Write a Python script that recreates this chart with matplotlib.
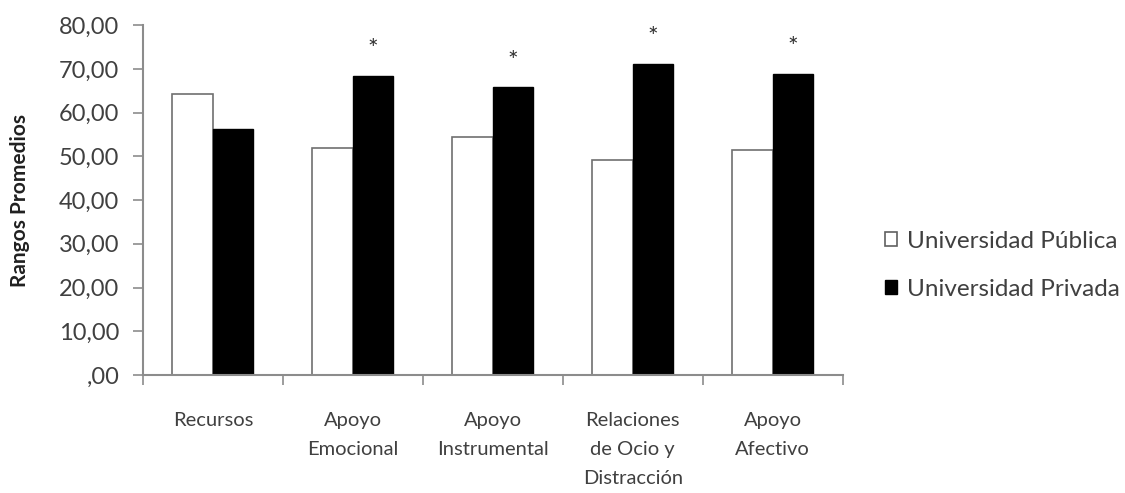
import numpy as np
import matplotlib
matplotlib.use("Agg")
import matplotlib.pyplot as plt
from matplotlib.patches import Patch

plt.rcParams["font.family"] = ["Lato", "DejaVu Sans"]

categories = ["Recursos", "Apoyo\nEmocional", "Apoyo\nInstrumental",
              "Relaciones\nde Ocio y\nDistracción", "Apoyo\nAfectivo"]
publica = [64.2, 51.8, 54.5, 49.1, 51.4]
privada = [56.2, 68.4, 65.8, 71.1, 68.8]
significant = [False, True, True, True, True]
yticks = [0, 10, 20, 30, 40, 50, 60, 70, 80]
ytick_labels = [",00", "10,00", "20,00", "30,00", "40,00", "50,00", "60,00", "70,00", "80,00"]

text_color = "#404040"
axis_color = "#8c8c8c"

fig = plt.figure(figsize=(11.25, 4.93), dpi=100)
ax = fig.add_axes([0.127, 0.2394, 0.622, 0.7096])

x = np.arange(len(categories))
w = 0.29
ax.bar(x - w / 2, publica, w, color="white", edgecolor="#707070", linewidth=1.2, zorder=2)
ax.bar(x + w / 2, privada, w, color="black", edgecolor="black", linewidth=1.0, zorder=2)

for xi, v, s in zip(x, privada, significant):
    if s:
        ax.text(xi + w / 2, v + 6.0, "*", ha="center", va="center",
                fontsize=18, color="#303030")

ax.set_xlim(-0.5, len(categories) - 0.5)
ax.set_ylim(0, 80)
ax.set_yticks(yticks)
ax.set_yticklabels(ytick_labels)
ax.set_xticks(x)
ax.set_xticklabels(categories, linespacing=1.85)
ax.set_xticks(np.arange(-0.5, len(categories), 1), minor=True)

ax.tick_params(axis="x", which="major", length=0, pad=27, labelsize=14.5, labelcolor=text_color)
ax.tick_params(axis="x", which="minor", length=7, width=1.2, color=axis_color, direction="out")
ax.tick_params(axis="y", length=7, width=1.2, color=axis_color, pad=10, labelsize=17,
               labelcolor=text_color)

for side in ["top", "right"]:
    ax.spines[side].set_visible(False)
for side in ["left", "bottom"]:
    ax.spines[side].set_color(axis_color)
    ax.spines[side].set_linewidth(1.5)

ax.set_ylabel("Rangos Promedios", fontsize=15, fontweight="bold", color="#202020", labelpad=21)

handles = [Patch(facecolor="white", edgecolor="#606060", linewidth=1.2),
           Patch(facecolor="black", edgecolor="black")]
fig.legend(handles, ["Universidad Pública", "Universidad Privada"],
           loc="center left", bbox_to_anchor=(0.767, 0.462), frameon=False,
           fontsize=17.5, handlelength=0.5, handleheight=0.5, handletextpad=0.4,
           labelspacing=1.1, labelcolor=text_color)

fig.savefig("out.png", dpi=100)
